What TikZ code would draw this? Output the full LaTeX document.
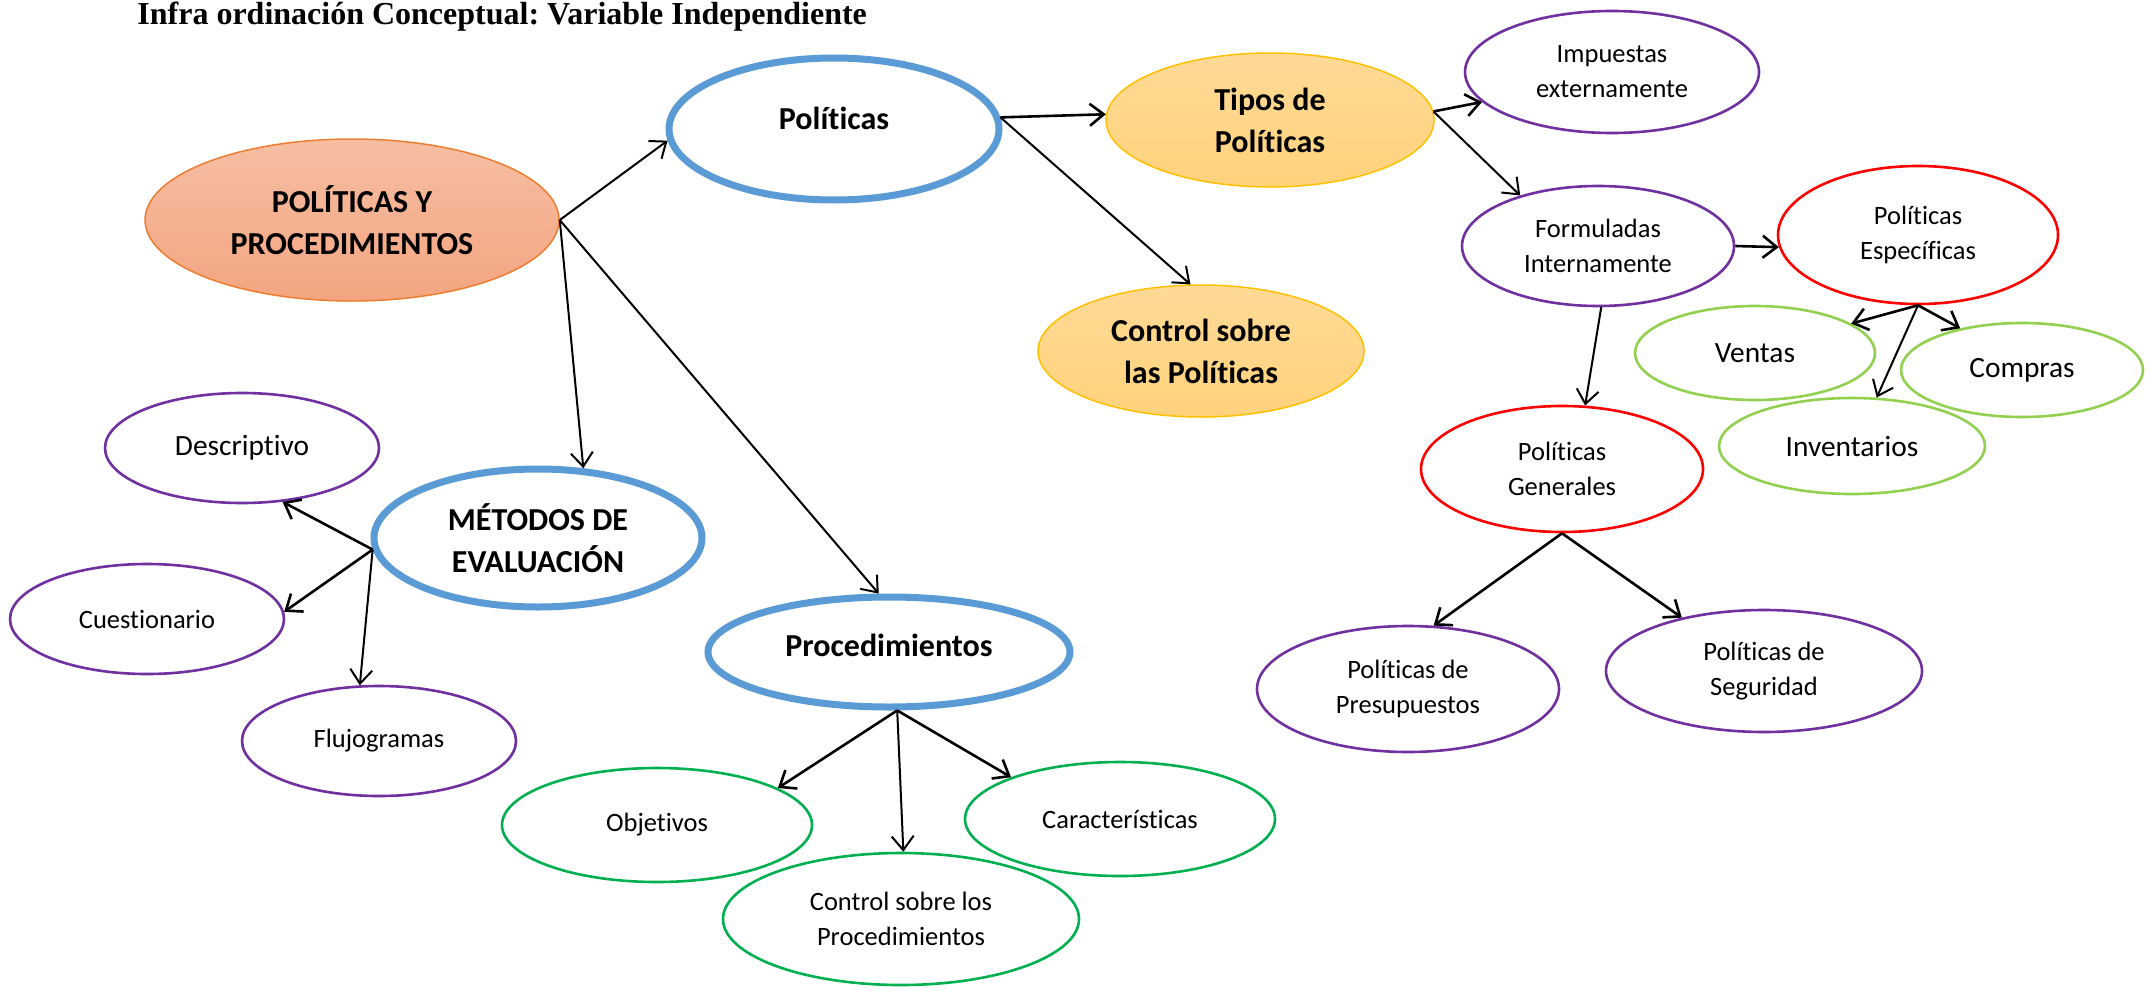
\documentclass[tikz,border=0pt]{standalone}
\usepackage{fontspec}
\setmainfont{Carlito}[Ligatures=NoCommon]
\newfontfamily\titlefont{Liberation Serif}
\usetikzlibrary{shapes.geometric,arrows.meta}
\frenchspacing

\definecolor{cblue}{HTML}{5B9BD5}
\definecolor{corange}{HTML}{ED7D31}
\definecolor{corangetop}{HTML}{F6BEA2}
\definecolor{corangebot}{HTML}{F4A581}
\definecolor{cgold}{HTML}{FFC000}
\definecolor{cgoldtop}{HTML}{FFDA96}
\definecolor{cgoldbot}{HTML}{FFD27C}
\definecolor{cpurple}{HTML}{7030A0}
\definecolor{cred}{HTML}{FF0000}
\definecolor{clime}{HTML}{92D050}
\definecolor{cgreen}{HTML}{00B050}

\begin{document}
\begin{tikzpicture}[x=0.5pt,y=-0.5pt,
  oval/.style 2 args={ellipse, inner sep=0pt, align=center,
    minimum width=#1pt, minimum height=#2pt},
  boldtxt/.style={font=\fontsize{16}{21}\selectfont\bfseries},
  smalltxt/.style={font=\fontsize{13.25}{17.5}\selectfont},
  midtxt/.style={font=\fontsize{14.7}{17.5}\selectfont},
  mainnode/.style={boldtxt, draw=corange, line width=0.75pt,
    top color=corangetop, bottom color=corangebot},
  bluenode/.style={boldtxt, draw=cblue, line width=3.5pt},
  goldnode/.style={boldtxt, draw=cgold, line width=0.75pt,
    top color=cgoldtop, bottom color=cgoldbot},
  purplenode/.style={smalltxt, draw=cpurple, line width=1.3pt},
  rednode/.style={smalltxt, draw=cred, line width=1.3pt},
  limenode/.style={midtxt, draw=clime, line width=1.3pt},
  greennode/.style={smalltxt, draw=cgreen, line width=1.3pt},
  link/.style={-{Straight Barb[length=7pt,width=11pt]}, line width=1.3pt},
  thinlink/.style={link, line width=1pt}
]
\fill[white] (0,0) rectangle (2150,990);
\useasboundingbox (0,0) rectangle (2150,990);

% title
\node[anchor=base west, inner sep=0pt,
  font=\titlefont\bfseries\fontsize{16}{19}\selectfont] (title) at (137,25)
  {Infra ordinación Conceptual: Variable Independiente};

% central concept and first level
\node[oval={207}{81}, mainnode] (pyp) at (352,220) {POLÍTICAS Y\\PROCEDIMIENTOS};
\node[oval={165}{71}, bluenode, text depth=11pt] (pol) at (834,129) {Políticas};
\node[oval={164}{69}, bluenode] (met) at (538,538) {MÉTODOS DE\\EVALUACIÓN};
\node[oval={181}{55}, bluenode, text depth=7pt] (proc) at (889,652) {Procedimientos};

% policies branch
\node[oval={164}{67}, goldnode] (tipos) at (1270,120) {Tipos de\\Políticas};
\node[oval={163}{66}, goldnode] (ctrl) at (1201,351) {Control sobre\\las Políticas};
\node[oval={147}{61}, purplenode] (imp) at (1612,72) {Impuestas\\externamente};
\node[oval={136}{60}, purplenode] (form) at (1598,246) {Formuladas\\Internamente};
\node[oval={140}{69}, rednode] (esp) at (1918,235) {Políticas\\Específicas};
\node[oval={120}{47}, limenode] (ventas) at (1755,353) {Ventas};
\node[oval={121}{47}, limenode] (compras) at (2022,370) {Compras};
\node[oval={133}{48}, limenode] (inv) at (1852,446) {Inventarios};
\node[oval={141}{63}, rednode] (gen) at (1562,469) {Políticas\\Generales};
\node[oval={151}{63}, purplenode] (presup) at (1408,689) {Políticas de\\Presupuestos};
\node[oval={158}{61}, purplenode] (seg) at (1764,671) {Políticas de\\Seguridad};

% evaluation methods branch
\node[oval={137}{55}, purplenode, midtxt] (desc) at (242,448) {Descriptivo};
\node[oval={137}{55}, purplenode] (cuest) at (147,619) {Cuestionario};
\node[oval={137}{55}, purplenode] (fluj) at (379,741) {Flujogramas};

% procedures branch
\node[oval={155}{57}, greennode] (obj) at (657,825) {Objetivos};
\node[oval={155}{57}, greennode] (car) at (1120,819) {Características};
\node[oval={178}{66}, greennode] (cp) at (901,919) {Control sobre los\\Procedimientos};

% connectors
\draw[thinlink] (pyp.east) -- (pol.184);
\draw[thinlink] (pyp.east) -- (met.57);
\draw[thinlink] (pyp.east) -- (proc.100);
\draw[link] (pol.4) -- (tipos.178);
\draw[thinlink] (pol.4) -- (ctrl.99);
\draw[link] (tipos.3) -- (imp.193);
\draw[thinlink] (tipos.3) -- (form.147);
\draw[link] (form.east) -- (esp.185);
\draw[thinlink] (form.-87) -- (gen.70);
\draw[link] (esp.south) -- (ventas.17);
\draw[link] (esp.south) -- (compras.146);
\draw[thinlink] (esp.south) -- (inv.63);
\draw[link] (gen.south) -- (presup.68);
\draw[link] (gen.south) -- (seg.147);
\draw[link] (met.184) -- (desc.-53);
\draw[link] (met.184) -- (cuest.3);
\draw[thinlink] (met.184) -- (fluj.109);
\draw[link] (proc.-82) -- (obj.17);
\draw[thinlink] (proc.-82) -- (cp.88);
\draw[link] (proc.-82) -- (car.159);
\end{tikzpicture}
\end{document}
